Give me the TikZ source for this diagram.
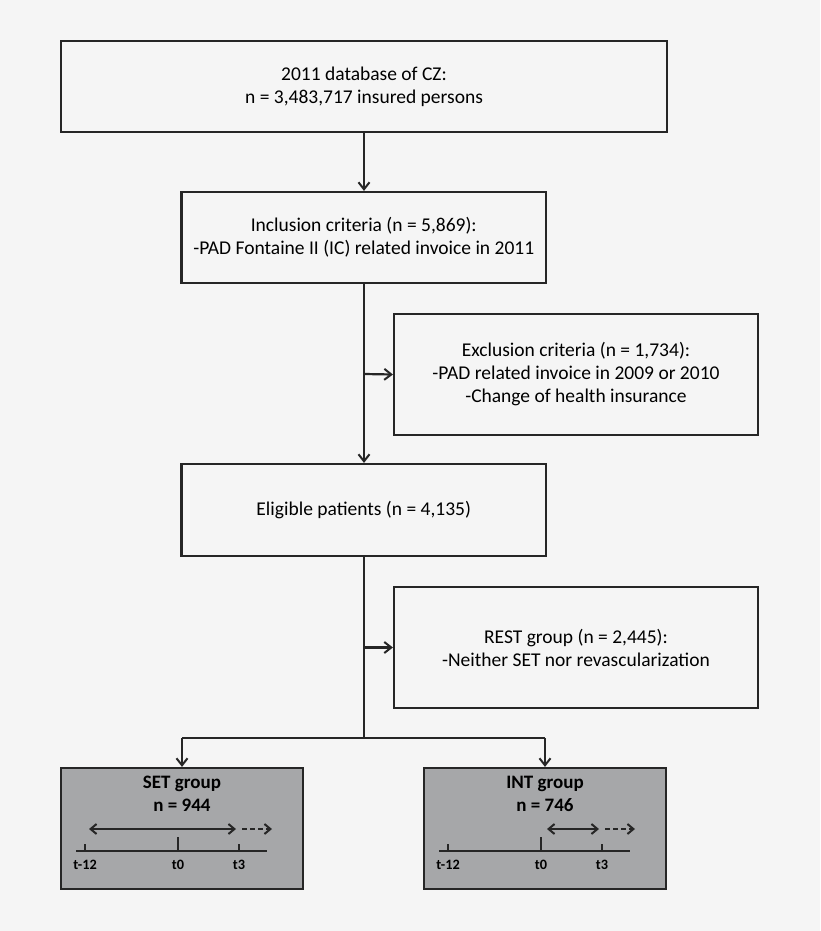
\documentclass[tikz,border=0pt]{standalone}
\usepackage{fontspec}
\setmainfont{Carlito}
\usetikzlibrary{arrows.meta, positioning}
\definecolor{pagegray}{RGB}{245, 245, 245}
\definecolor{boxgray}{RGB}{166, 167, 169}
\definecolor{inkgray}{RGB}{38, 38, 38}
\tikzset{
  flowbox/.style={draw=inkgray, line width=2.2pt, fill=pagegray, align=center, inner sep=0pt, font=\fontsize{19.5}{23}\selectfont},
  groupbox/.style={draw=inkgray, line width=2.2pt, fill=boxgray, minimum width=242pt, minimum height=121pt, inner sep=0pt},
  grouptitle/.style={font=\fontsize{19}{23}\selectfont\bfseries, align=center, inner sep=0pt},
  ticklabel/.style={font=\fontsize{14.3}{16}\selectfont\bfseries, inner sep=0pt},
  flowarrow/.style={draw=inkgray, line width=2.2pt, -{Straight Barb[length=7pt, width=11pt, line width=2pt]}},
  flowline/.style={draw=inkgray, line width=2.2pt}
}

\begin{document}
\begin{tikzpicture}[x=1pt, y=-1pt]
  \fill[pagegray] (0,0) rectangle (820,931);
  \useasboundingbox (0,0) rectangle (820,931);

  % flow boxes
  \node[flowbox, minimum width=606pt, minimum height=91pt] (db) at (364,86.5)
    {2011 database of CZ:\\n = 3,483,717 insured persons};
  \node[flowbox, minimum width=364.5pt, minimum height=91pt] (incl) at (363.75,237.5)
    {Inclusion criteria (n = 5,869):\\-PAD Fontaine II (IC) related invoice in 2011};
  \node[flowbox, minimum width=364pt, minimum height=121pt] (excl) at (576,374.5)
    {Exclusion criteria (n = 1,734):\\-PAD related invoice in 2009 or 2010\\-Change of health insurance};
  \node[flowbox, minimum width=364.5pt, minimum height=92pt] (elig) at (363.75,510)
    {Eligible patients (n = 4,135)};
  \node[flowbox, minimum width=364pt, minimum height=121pt] (rest) at (576,647.5)
    {REST group (n = 2,445):\\-Neither SET nor revascularization};

  % group boxes
  \node[groupbox] (set) at (182,828.5) {};
  \node[groupbox] (int) at (545,828.5) {};
  \node[grouptitle, below=9pt of set.north] (settitle) {SET group\\n = 944};
  \node[grouptitle, below=9pt of int.north] (inttitle) {INT group\\n = 746};

  % connectors
  \coordinate (split1) at (364,374);
  \coordinate (split2) at (364,647.5);
  \coordinate (fork) at (364,738);
  \draw[flowarrow] (db.south -| split1) -- (incl.north -| split1);
  \draw[flowarrow] (incl.south -| split1) -- (elig.north -| split1);
  \draw[flowarrow] (split1) -- (excl.west);
  \draw[flowline] (elig.south -| fork) -- (fork);
  \draw[flowarrow] (split2) -- (rest.west);
  \draw[flowline] (fork -| set.north) -- (fork -| int.north);
  \draw[flowarrow] (fork -| set.north) -- (set.north);
  \draw[flowarrow] (fork -| int.north) -- (int.north);

  % time lines
  \foreach \grp/\start in {set/-93, int/2} {
    \begin{scope}[shift={(\grp.center)}]
      \draw[inkgray, line width=2pt] (-106,22.5) -- (85,22.5);
      \draw[inkgray, line width=2pt] (-97,22.5) -- (-97,15.5);
      \draw[inkgray, line width=2pt] (-4,22.5) -- (-4,8.5);
      \draw[inkgray, line width=2pt] (57,22.5) -- (57,15.5);
      \draw[inkgray, line width=2pt, {Straight Barb[length=6pt, width=10pt, line width=2pt]}-{Straight Barb[length=6pt, width=10pt, line width=2pt]}] (\start,0.5) -- (54,0.5);
      \draw[inkgray, line width=2pt, dash pattern=on 5pt off 3pt, -{Straight Barb[length=6pt, width=10pt, line width=2pt]}] (60,0.5) -- (90,0.5);
      \node[ticklabel] at (-97,36.5) {t-12};
      \node[ticklabel] at (-4,36.5) {t0};
      \node[ticklabel] at (57,36.5) {t3};
    \end{scope}
  }
\end{tikzpicture}
\end{document}
